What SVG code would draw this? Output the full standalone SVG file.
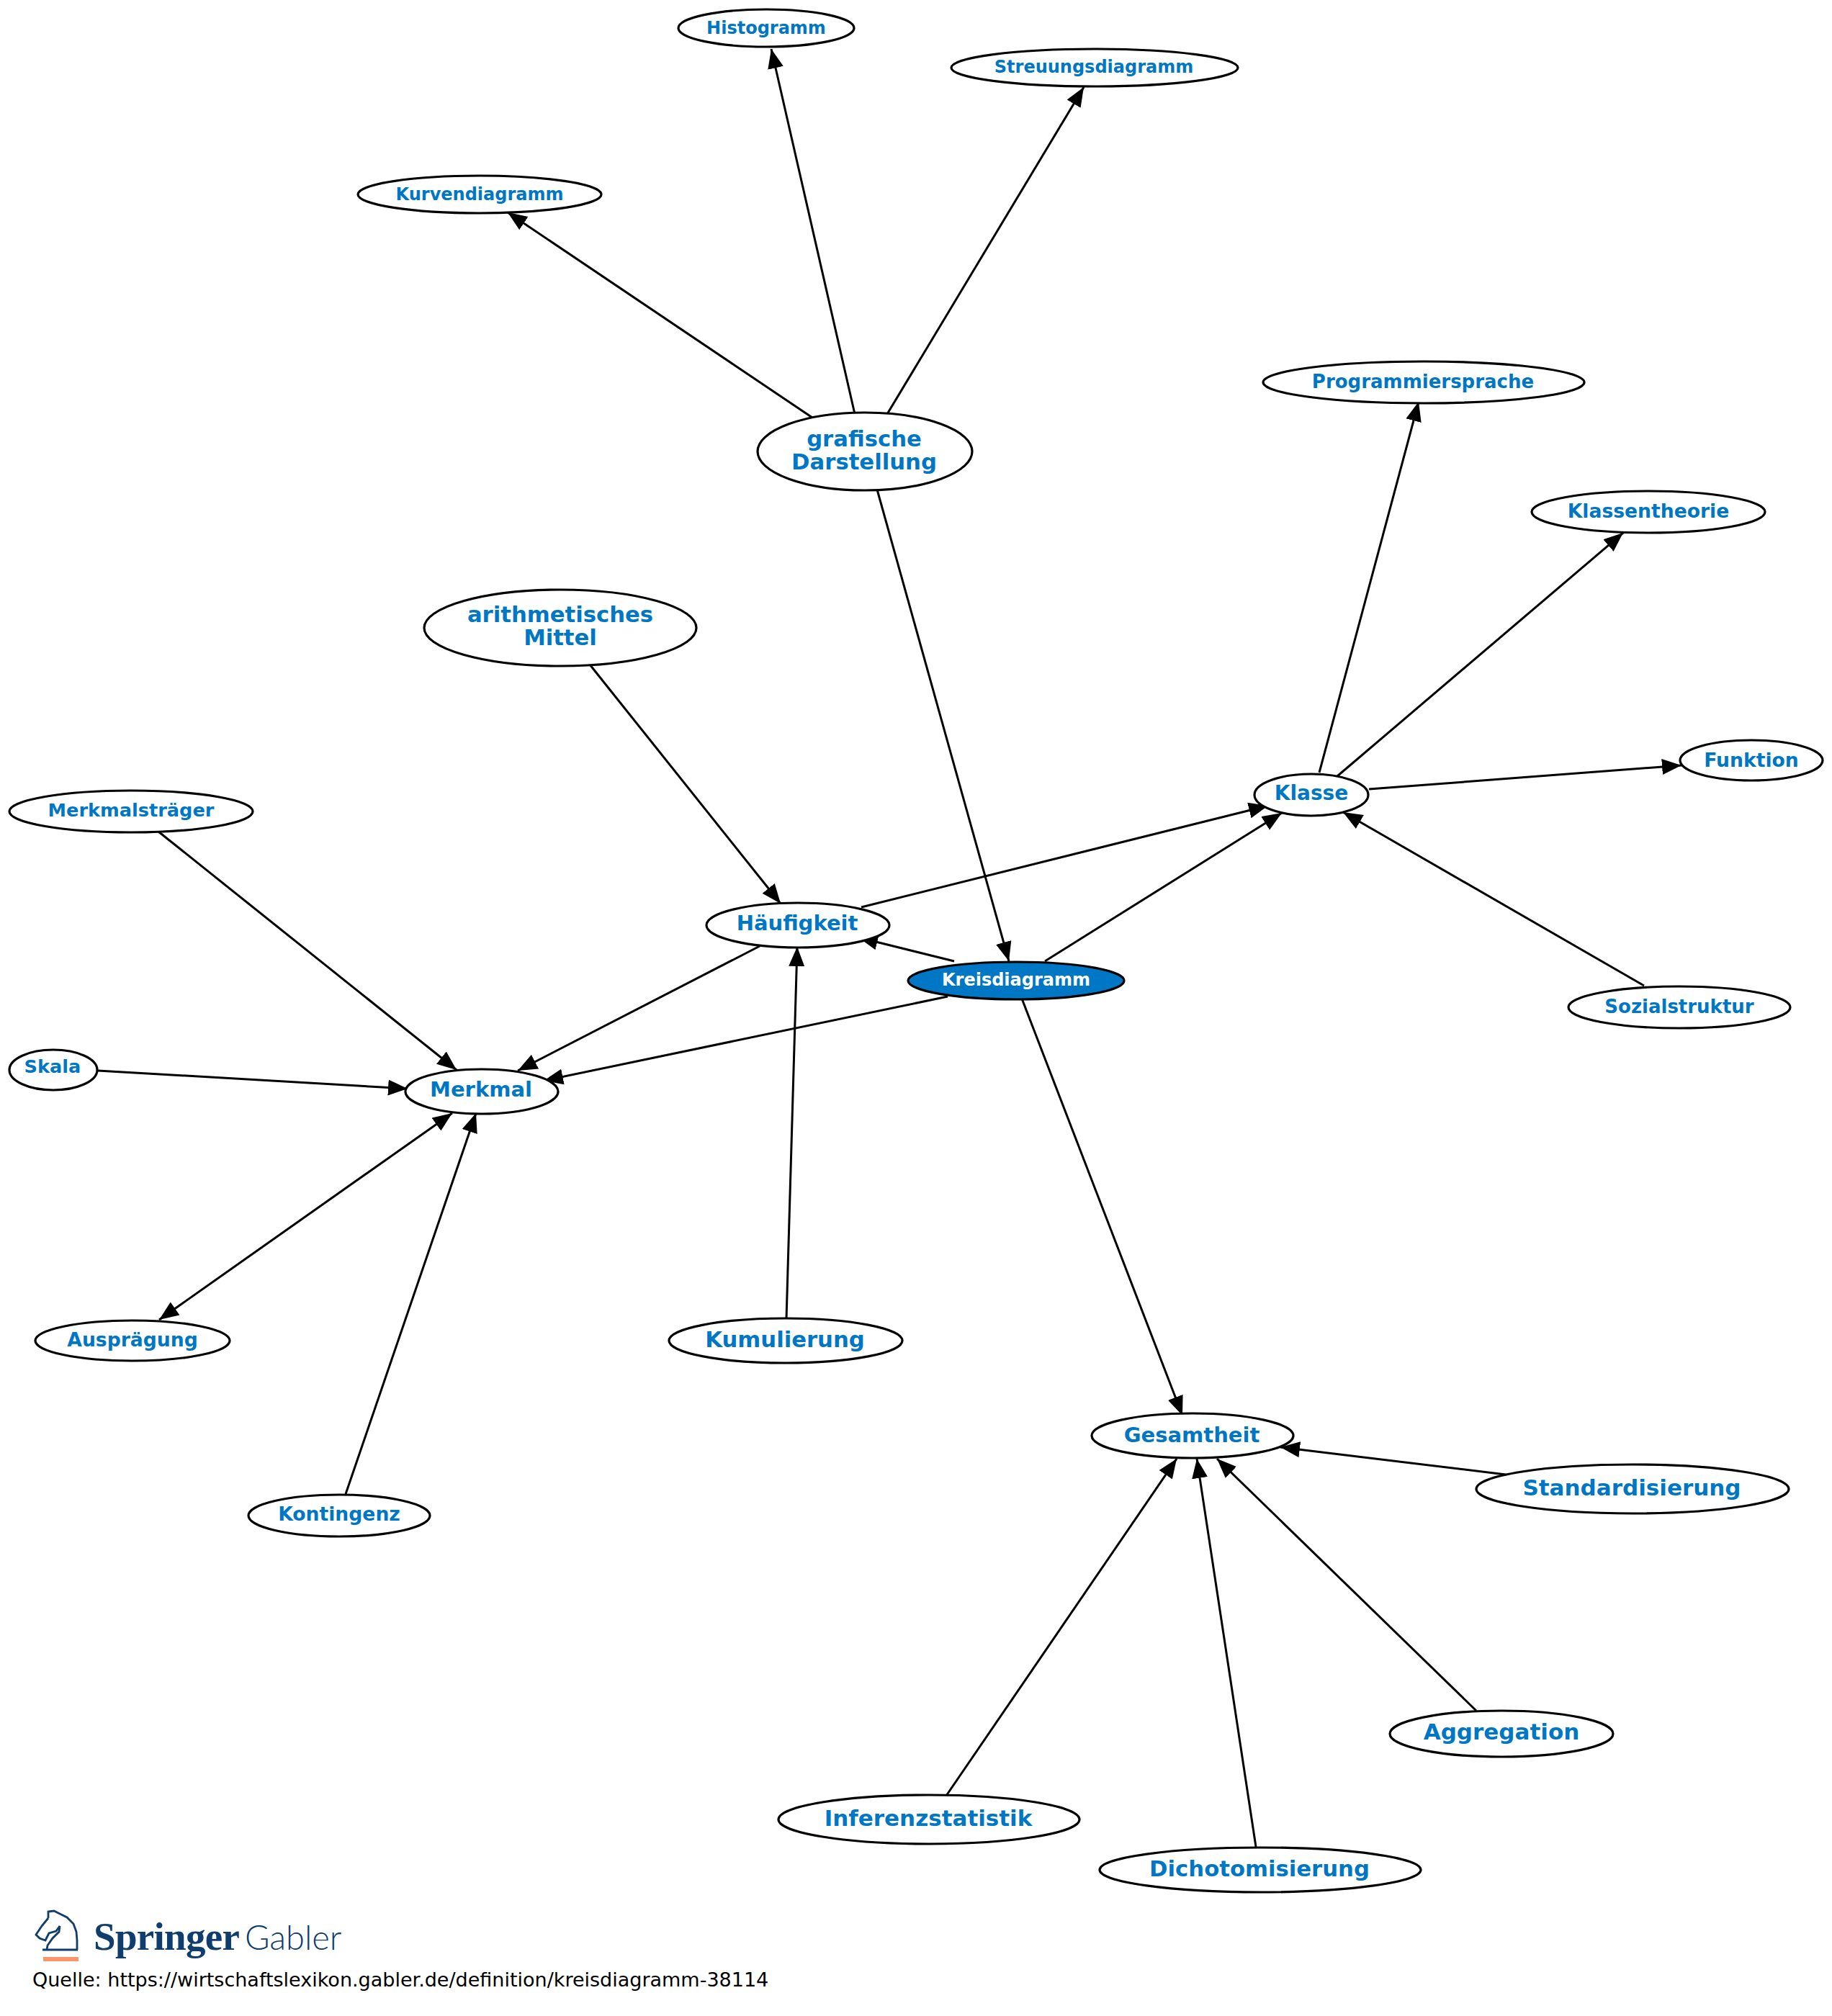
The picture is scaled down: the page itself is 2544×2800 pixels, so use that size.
<svg xmlns="http://www.w3.org/2000/svg" width="2544" height="2800" viewBox="0 0 2544 2800">
<style>
.n{fill:#fff;stroke:#000;stroke-width:3.2}
.h{fill:#0077c4;stroke:#000;stroke-width:3.2}
text{font-family:"DejaVu Sans",sans-serif;font-weight:bold;fill:#0077c4;text-anchor:middle}
.s{font-size:24px}.t{font-size:26px}.u{font-size:26.6px}.r{font-size:25.6px}.m{font-size:26.6px}.k{font-size:29px}.j{font-size:28px}.l{font-size:30.7px}.x{font-size:31px}
#edges line{stroke:#000;stroke-width:3;marker-end:url(#a)}
</style>
<defs>
<marker id="a" markerUnits="userSpaceOnUse" markerWidth="30" markerHeight="24" refX="27" refY="11" orient="auto"><path d="M0 0L27 11L0 22Z"/></marker>
<marker id="b" markerUnits="userSpaceOnUse" markerWidth="30" markerHeight="24" refX="0" refY="11" orient="auto"><path d="M27 0L0 11L27 22Z"/></marker>
</defs>
<rect width="2544" height="2800" fill="#fff"/>
<g id="edges">
<line x1="1187" y1="575" x2="1071" y2="68"/>
<line x1="1232" y1="575" x2="1505" y2="121"/>
<line x1="1128" y1="580" x2="705" y2="295"/>
<line x1="1218" y1="680" x2="1401" y2="1335"/>
<line x1="819" y1="923" x2="1084" y2="1255"/>
<line x1="1832" y1="1073" x2="1970" y2="558"/>
<line x1="1857" y1="1078" x2="2254" y2="740"/>
<line x1="1901" y1="1096" x2="2335" y2="1063"/>
<line x1="2283" y1="1369" x2="1865" y2="1128"/>
<line x1="1196" y1="1260" x2="1761" y2="1119"/>
<line x1="1451" y1="1335" x2="1780" y2="1129"/>
<line x1="1325" y1="1335" x2="1192" y2="1302"/>
<line x1="1055" y1="1314" x2="719" y2="1487"/>
<line x1="1316" y1="1384" x2="755" y2="1501"/>
<line x1="220" y1="1155" x2="634" y2="1486"/>
<line x1="136" y1="1487" x2="566" y2="1512"/>
<line x1="221" y1="1833" x2="628" y2="1546" marker-start="url(#b)"/>
<line x1="480" y1="2075" x2="661" y2="1546"/>
<line x1="1092" y1="1832" x2="1107" y2="1315"/>
<line x1="1419" y1="1387" x2="1642" y2="1966"/>
<line x1="2091" y1="2048" x2="1778" y2="2010"/>
<line x1="1314" y1="2494" x2="1634" y2="2026"/>
<line x1="1744" y1="2565" x2="1662" y2="2026"/>
<line x1="2050" y1="2376" x2="1690" y2="2026"/>
</g>
<g id="histogramm"><ellipse class="n" cx="1064" cy="39" rx="122" ry="26"/><text class="s" x="1064" y="47">Histogramm</text></g>
<g id="streuungsdiagramm"><ellipse class="n" cx="1520" cy="94" rx="199" ry="26"/><text class="s" x="1519" y="101">Streuungsdiagramm</text></g>
<g id="kurvendiagramm"><ellipse class="n" cx="666" cy="270" rx="169" ry="26"/><text class="s" x="666" y="278">Kurvendiagramm</text></g>
<g id="programmiersprache"><ellipse class="n" cx="1977" cy="531" rx="223" ry="29"/><text class="t" x="1976" y="539">Programmiersprache</text></g>
<g id="grafische-darstellung"><ellipse class="n" cx="1201" cy="627" rx="149" ry="54"/><text class="l" x="1200" y="620">grafische</text><text class="l" x="1200" y="652">Darstellung</text></g>
<g id="klassentheorie"><ellipse class="n" cx="2289" cy="711" rx="162" ry="29"/><text class="m" x="2289" y="719">Klassentheorie</text></g>
<g id="arithmetisches-mittel"><ellipse class="n" cx="778" cy="872" rx="189" ry="53"/><text class="l" x="778" y="864">arithmetisches</text><text class="l" x="778" y="896">Mittel</text></g>
<g id="merkmalstraeger"><ellipse class="n" cx="182" cy="1127" rx="169" ry="29"/><text class="r" x="182" y="1134">Merkmalsträger</text></g>
<g id="klasse"><ellipse class="n" cx="1821" cy="1104" rx="79" ry="29"/><text class="j" x="1821" y="1111">Klasse</text></g>
<g id="funktion"><ellipse class="n" cx="2432" cy="1056" rx="99" ry="28"/><text class="u" x="2432" y="1065">Funktion</text></g>
<g id="haeufigkeit"><ellipse class="n" cx="1108" cy="1285" rx="127" ry="31"/><text class="k" x="1107" y="1292">Häufigkeit</text></g>
<g id="kreisdiagramm"><ellipse class="h" cx="1411" cy="1362" rx="150" ry="26"/><text class="s" x="1411" y="1369" style="fill:#fff">Kreisdiagramm</text></g>
<g id="sozialstruktur"><ellipse class="n" cx="2332" cy="1399" rx="154" ry="29"/><text class="t" x="2332" y="1407">Sozialstruktur</text></g>
<g id="merkmal"><ellipse class="n" cx="669" cy="1516" rx="106" ry="31"/><text class="k" x="668" y="1523">Merkmal</text></g>
<g id="skala"><ellipse class="n" cx="74" cy="1486" rx="61" ry="28"/><text class="r" x="73" y="1490">Skala</text></g>
<g id="auspraegung"><ellipse class="n" cx="184" cy="1862" rx="135" ry="28"/><text class="u" x="184" y="1870">Ausprägung</text></g>
<g id="kumulierung"><ellipse class="n" cx="1091" cy="1862" rx="162" ry="31"/><text class="l" x="1090" y="1871">Kumulierung</text></g>
<g id="gesamtheit"><ellipse class="n" cx="1656" cy="1994" rx="140" ry="31"/><text class="k" x="1655" y="2003">Gesamtheit</text></g>
<g id="standardisierung"><ellipse class="n" cx="2267" cy="2068" rx="217" ry="34"/><text class="x" x="2266" y="2077">Standardisierung</text></g>
<g id="kontingenz"><ellipse class="n" cx="471" cy="2105" rx="126" ry="29"/><text class="u" x="471" y="2112">Kontingenz</text></g>
<g id="aggregation"><ellipse class="n" cx="2085" cy="2408" rx="155" ry="32"/><text class="x" x="2085" y="2416">Aggregation</text></g>
<g id="inferenzstatistik"><ellipse class="n" cx="1290" cy="2527" rx="209" ry="34"/><text class="x" x="1289" y="2536">Inferenzstatistik</text></g>
<g id="dichotomisierung"><ellipse class="n" cx="1750" cy="2597" rx="223" ry="31"/><text class="l" x="1749" y="2606">Dichotomisierung</text></g>
<g id="logo">
<path d="M67 2664L67 2655L75 2654L83 2658L93 2663L102 2672L106 2683L107 2695L107 2708M67 2664L58 2675L50 2687L55 2692L63 2695L68 2685L78 2682L83 2675L82 2683L73 2692L66 2702L65 2708M59 2708L108 2708" fill="none" stroke="#0f3d6e" stroke-width="2.8"/>
<rect x="60" y="2718" width="49" height="6" fill="#f9966b"/>
<text x="130" y="2708" style="font-family:'Liberation Serif',serif;font-size:55px;letter-spacing:-0.7px;fill:#0f3d6e;text-anchor:start">Springer</text>
<text x="340" y="2708" style="font-family:Lato,sans-serif;font-weight:300;font-size:47px;fill:#0f3d6e;text-anchor:start">Gabler</text>
</g>
<text x="45" y="2759" style="font-weight:normal;font-size:27px;fill:#000;text-anchor:start">Quelle: https://wirtschaftslexikon.gabler.de/definition/kreisdiagramm-38114</text>
</svg>
